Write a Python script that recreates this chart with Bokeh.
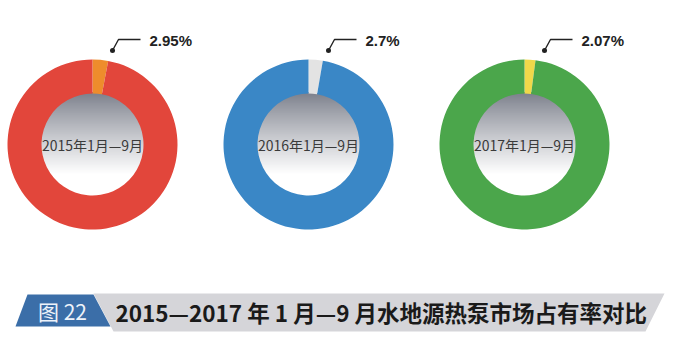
import numpy as np
from bokeh.plotting import figure
from bokeh.models import Range1d, ColumnDataSource
from bokeh.core.properties import value
from bokeh.embed import file_html
from bokeh.resources import INLINE

# ---- data ----
periods = ["2015年1月—9月", "2016年1月—9月", "2017年1月—9月"]
shares = [2.95, 2.7, 2.07]            # % market share of water-source heat pumps
share_labels = ["2.95%", "2.7%", "2.07%"]
main_colors = ["#E2463B", "#3A87C6", "#4BA64B"]
slice_colors = ["#EE8C2C", "#E3E3E3", "#F0D84A"]
title = "2015—2017 年 1 月—9 月水地源热泵市场占有率对比"
fig_label = "图 22"

W, H = 682, 354
def Y(v):
    return H - v

p = figure(width=W, height=H, x_range=Range1d(0, W), y_range=Range1d(0, H),
           output_backend="svg", toolbar_location=None, min_border=0)
p.axis.visible = False
p.grid.visible = False
p.outline_line_color = None
p.background_fill_color = "white"
p.border_fill_color = "white"

centers_x = [92, 308, 524]
cy = Y(144)
r_out, r_in = 85, 51

# gradient image for inner disc
N = 220
yy, xx = np.mgrid[0:N, 0:N]
u = (xx + 0.5) / N * 2 - 1
v = (yy + 0.5) / N * 2 - 1          # row 0 = bottom in bokeh
t = (1 - v) / 2                      # 0 at top, 1 at bottom
k = np.clip(t / 0.78, 0, 1)
top = np.array([122, 126, 138]); bot = np.array([255, 255, 255])
img = np.zeros((N, N), dtype=np.uint32)
view = img.view(dtype=np.uint8).reshape((N, N, 4))
for c in range(3):
    view[:, :, c] = (top[c] + (bot[c] - top[c]) * k**0.9).astype(np.uint8)
d = np.sqrt(u**2 + v**2)
view[:, :, 3] = np.where(d <= 1.0, 255, 0).astype(np.uint8)
R_img = r_in + 1.5

for i, cx in enumerate(centers_x):
    p.image_rgba(image=[img], x=cx - R_img, y=cy - R_img, dw=2 * R_img, dh=2 * R_img)
    sweep = shares[i] / 100 * 2 * np.pi
    start = np.pi / 2
    src = ColumnDataSource(dict(
        s=[start - sweep, start],
        e=[start, start - sweep + 2 * np.pi],
        col=[slice_colors[i], main_colors[i]],
    ))
    p.annular_wedge(x=cx, y=cy, inner_radius=r_in, outer_radius=r_out,
                    start_angle="s", end_angle="e", fill_color="col",
                    line_color=None, source=src)
    p.text(x=[cx], y=[cy], text=[periods[i]], text_align="center",
           text_baseline="middle", text_font=value("Noto Sans CJK SC"),
           text_font_size="14px", text_color="#3a3a3a")
    # callout
    p.line(x=[cx + 20, cx + 26, cx + 48], y=[Y(50), Y(39), Y(39)],
           line_color="#222222", line_width=1.4)
    p.scatter(x=[cx + 20], y=[Y(50)], size=5, fill_color="#222222", line_color=None)
    p.text(x=[cx + 57], y=[Y(40)], text=[share_labels[i]], text_align="left",
           text_baseline="middle", text_font=value("Liberation Sans"),
           text_font_style="bold", text_font_size="15px", text_color="#222222")

# banner
p.patch(x=[93, 664, 645, 113], y=[Y(293), Y(293), Y(331), Y(331)],
        fill_color="#D5D5D9", line_color=None)
p.patch(x=[27, 93, 110, 15], y=[Y(294), Y(294), Y(326), Y(326)],
        fill_color="#3B6EA8", line_color=None)
p.text(x=[62], y=[Y(310)], text=[fig_label], text_align="center",
       text_baseline="middle", text_font=value("Noto Sans CJK SC"),
       text_font_size="21px", text_color="#EEF3FA")
p.text(x=[115], y=[Y(311)], text=[title], text_align="left",
       text_baseline="middle", text_font=value("Noto Sans CJK SC"),
       text_font_style="bold", text_font_size="22.5px", text_color="#1a1a1a")

open("out.html", "w").write(file_html(p, INLINE))
